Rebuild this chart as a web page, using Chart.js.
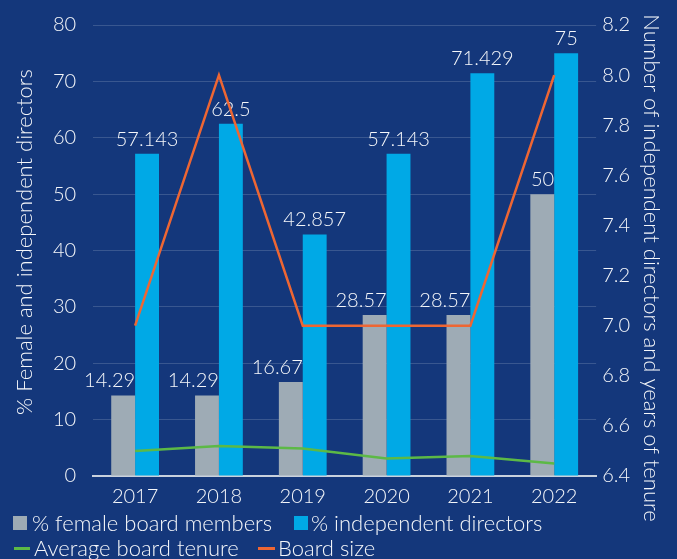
<!DOCTYPE html>
<html>
<head>
<meta charset="utf-8">
<script src="https://cdn.jsdelivr.net/npm/chart.js@4.4.1/dist/chart.umd.min.js"></script>
<style>
  html, body { margin: 0; padding: 0; background: #14377b; }
  #wrap { position: relative; width: 677px; height: 559px; background: #14377b; font-family: Lato, "Open Sans", sans-serif; color: #f5f7fa; }
  .lg { position: absolute; font-size: 22px; font-weight: 300; line-height: 24px; white-space: nowrap; }
  .sw { position: absolute; }
</style>
</head>
<body>
<div id="wrap">
  <canvas id="board-chart" width="677" height="559"></canvas>
  <div class="sw" style="left:13px; top:516px; width:14px; height:14px; background:#9eabb5;"></div>
  <div class="lg" style="left:32px; top:511px;">% female board members</div>
  <div class="sw" style="left:294px; top:516px; width:14px; height:14px; background:#00a9e6;"></div>
  <div class="lg" style="left:311px; top:511px;">% independent directors</div>
  <div class="sw" style="left:14px; top:547px; width:16px; height:3px; background:#5cb946;"></div>
  <div class="lg" style="left:34px; top:536px;">Average board tenure</div>
  <div class="sw" style="left:258px; top:547px; width:17px; height:3px; background:#ee6633;"></div>
  <div class="lg" style="left:278px; top:536px;">Board size</div>
</div>
<script>
const years = ['2017', '2018', '2019', '2020', '2021', '2022'];
const femalePct = [14.29, 14.29, 16.67, 28.57, 28.57, 50];
const independentPct = [57.143, 62.5, 42.857, 57.143, 71.429, 75];
const avgTenure = [6.50, 6.52, 6.51, 6.47, 6.48, 6.45];
const boardSize = [7, 8, 7, 7, 7, 8];

const textColor = '#f5f7fa';
const fontFamily = 'Lato, "Open Sans", sans-serif';
const tickFont = { family: fontFamily, size: 20, weight: 300 };
const yTickFont = { family: fontFamily, size: 20, weight: 300, lineHeight: 0.8 };

// value labels over the bars, drawn before the lines so they sit under them
const barLabels = {
    id: 'barLabels',
    afterDatasetDraw(chart, args) {
        if (args.index > 1) return;
        const ctx = chart.ctx;
        const meta = args.meta;
        ctx.save();
        ctx.font = '300 20px ' + fontFamily;
        ctx.fillStyle = textColor;
        ctx.textBaseline = 'alphabetic';
        meta.data.forEach((bar, i) => {
            const v = chart.data.datasets[args.index].data[i];
            if (args.index === 0) {
                ctx.textAlign = 'right';
                ctx.fillText(String(v), bar.x + bar.width / 2, bar.y - 8);
            } else {
                ctx.textAlign = 'center';
                ctx.fillText(String(v), bar.x, bar.y - 8);
            }
        });
        ctx.restore();
    }
};

const axisTitles = {
    id: 'axisTitles',
    afterDraw(chart) {
        const ctx = chart.ctx;
        ctx.save();
        ctx.font = '300 22px ' + fontFamily;
        ctx.fillStyle = textColor;
        ctx.textAlign = 'center';
        ctx.textBaseline = 'middle';
        ctx.translate(25, 242);
        ctx.rotate(-Math.PI / 2);
        ctx.fillText('% Female and independent directors', 0, 0);
        ctx.restore();
        ctx.save();
        ctx.font = '300 22px ' + fontFamily;
        ctx.fillStyle = textColor;
        ctx.textAlign = 'center';
        ctx.textBaseline = 'middle';
        ctx.translate(651, 268);
        ctx.rotate(Math.PI / 2);
        ctx.fillText('Number of independent directors and years of tenure', 0, 0);
        ctx.restore();
    }
};

new Chart(document.getElementById('board-chart'), {
    type: 'bar',
    data: {
        labels: years,
        datasets: [
            {
                label: '% female board members',
                data: femalePct,
                backgroundColor: '#9eabb5',
                yAxisID: 'y',
                order: 2,
                categoryPercentage: 0.57,
                barPercentage: 1
            },
            {
                label: '% independent directors',
                data: independentPct,
                backgroundColor: '#00a9e6',
                yAxisID: 'y',
                order: 2,
                categoryPercentage: 0.57,
                barPercentage: 1
            },
            {
                type: 'line',
                label: 'Average board tenure',
                data: avgTenure,
                borderColor: '#5cb946',
                borderWidth: 2.5,
                pointRadius: 0,
                tension: 0,
                yAxisID: 'y2',
                order: 1
            },
            {
                type: 'line',
                label: 'Board size',
                data: boardSize,
                borderColor: '#ee6633',
                borderWidth: 2.5,
                pointRadius: 0,
                tension: 0,
                yAxisID: 'y2',
                order: 0
            }
        ]
    },
    options: {
        responsive: false,
        animation: false,
        layout: { padding: { left: 36, right: 41, top: 0, bottom: 41 } },
        plugins: {
            legend: { display: false },
            tooltip: { enabled: false }
        },
        scales: {
            x: {
                grid: { display: false, drawTicks: false },
                border: { display: true, color: '#c9d1dd', width: 2 },
                ticks: { color: textColor, font: tickFont, padding: 9 }
            },
            y: {
                position: 'left',
                min: 0,
                max: 80,
                ticks: { stepSize: 10, color: textColor, font: yTickFont, padding: 17 },
                grid: { color: 'rgba(255,255,255,0.16)', drawTicks: false },
                border: { display: false }
            },
            y2: {
                position: 'right',
                min: 6.4,
                max: 8.2,
                ticks: {
                    stepSize: 0.2,
                    color: textColor,
                    font: yTickFont,
                    padding: 6,
                    callback: v => v.toFixed(1)
                },
                grid: { display: false, drawTicks: false },
                border: { display: false }
            }
        }
    },
    plugins: [barLabels, axisTitles]
});
</script>
</body>
</html>
